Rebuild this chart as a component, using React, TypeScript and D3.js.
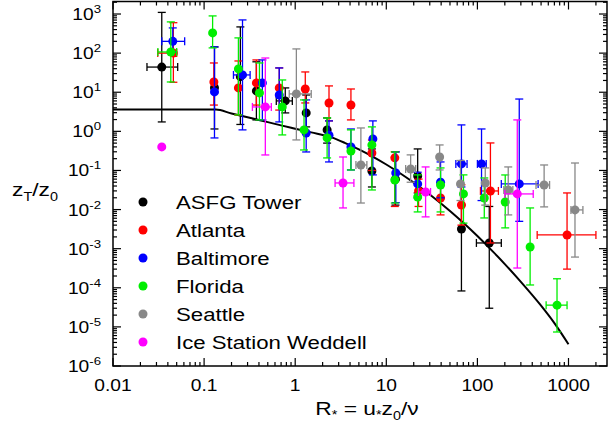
import React from "react";
import * as d3 from "d3";

// [R*, zT/z0, zLo, zHi, RLo, RHi]
type P = [number, number, number | null, number | null, number | null, number | null];

const asfgTower: P[] = [
  [0.0343, 44, 1.74, 1100, 0.0236, 0.0513],
  [0.13, 13, 1.15, 144, null, null],
  [0.25, 25, 1.5, 468, null, null],
  [0.375, 10.8, 1.96, 60, null, null],
  [0.778, 6.0, 2.96, 12.9, 0.62, 0.93],
  [1.32, 2.96, 1.3, 8.5, null, null],
  [2.24, 1.09, 0.5, 2.2, null, null],
  [6.95, 0.097, 0.0378, 0.355, null, null],
  [12.6, 0.06, 0.013, 0.3, null, null],
  [22.1, 0.0723, 0.0266, 0.355, null, null],
  [66.8, 0.00319, 8.3e-5, 0.013, null, null],
  [135, 0.0014, 3.0e-5, 0.012, 97.5, 183],
];

const atlanta: P[] = [
  [0.046, 100, 18, 600, 0.031, 0.05],
  [0.128, 18.3, 4.7, 56, null, null],
  [0.238, 12.9, 2.63, 63, null, null],
  [0.375, 17.3, 4.7, 67, null, null],
  [0.668, 12.9, 3.5, 41.8, null, null],
  [1.29, 12.1, 5.32, 33, null, null],
  [2.35, 5.32, 1.85, 14.5, null, null],
  [4.09, 4.73, 1.96, 12.1, null, null],
  [6.95, 0.28, 0.1, 0.6, null, null],
  [12.4, 0.21, 0.012, 0.3, null, null],
  [22.6, 0.03, 0.012, 0.06, null, null],
  [39.4, 0.0198, 0.0073, 0.0426, null, null],
  [66.8, 0.0131, 0.004, 0.043, null, null],
  [139, 0.0299, 0.0014, 0.505, 108, 170],
  [964, 0.00224, 3.0e-4, 0.0266, 453, 2000],
];

const baltimore: P[] = [
  [0.0453, 200, 107, 441, 0.0343, 0.0612],
  [0.13, 10.2, 0.678, 144, null, null],
  [0.264, 27.7, 1.09, 706, 0.21, 0.32],
  [0.436, 17.3, 1.96, 67, null, null],
  [0.668, 8.5, 1.74, 41.8, null, null],
  [1.32, 0.91, 0.297, 6.35, null, null],
  [2.35, 0.8, 0.165, 1.85, null, null],
  [4.09, 0.4, 0.103, 1.15, null, null],
  [7.12, 0.64, 0.077, 1.85, null, null],
  [12.7, 0.0863, 0.015, 0.297, null, null],
  [22.1, 0.0452, 0.02, 0.09, null, null],
  [39.4, 0.05, 0.02, 0.165, null, null],
  [66.8, 0.147, 0.0378, 1.46, 58, 77],
  [111, 0.147, 0.017, 1.15, 100, 125],
  [288, 0.0452, 0.005, 6.7, 183, 464],
];

const florida: P[] = [
  [0.0431, 107, 18.3, 629, 0.0311, 0.05],
  [0.124, 329, 136, 894, null, null],
  [0.238, 39.4, 2.63, 245, null, null],
  [0.405, 9.6, 1.96, 56, null, null],
  [0.721, 4.21, 0.81, 20.6, null, null],
  [1.25, 1.09, 0.334, 6.35, null, null],
  [2.24, 0.678, 0.209, 2.2, null, null],
  [4.09, 0.315, 0.103, 1.09, null, null],
  [6.95, 0.449, 0.0317, 1.3, null, null],
  [12.4, 0.0571, 0.0147, 0.297, null, null],
  [22.1, 0.021, 0.0087, 0.077, null, null],
  [39.4, 0.0426, 0.0087, 0.116, null, null],
  [70.3, 0.0251, 0.0045, 0.077, null, null],
  [119, 0.0198, 0.0061, 0.0643, null, null],
  [202, 0.0156, 0.0034, 0.0767, null, null],
  [379, 0.0011, 1.18e-4, 0.011, null, null],
  [748, 3.6e-5, 7.4e-6, 1.7e-4, 568, 964],
];

const seattle: P[] = [
  [1.03, 9.06, 0.603, 128, 0.86, 1.5],
  [5.26, 0.138, 0.0147, 1.22, 4.64, 6.12],
  [18.5, 0.109, 0.05, 0.25, 16.3, 21.0],
  [38.5, 0.221, 0.103, 0.449, null, null],
  [65.2, 0.0452, 0.017, 0.18, null, null],
  [122, 0.0479, 0.013, 0.116, null, null],
  [218, 0.0317, 0.0073, 0.123, 195, 245],
  [540, 0.0426, 0.0117, 0.138, 440, 620],
  [1178, 0.0098, 6.1e-4, 0.155, 1064, 1439],
];

const iceStationWeddell: P[] = [
  [0.0343, 0.4, null, null, null, null],
  [0.47, 4.21, 0.249, 75, 0.339, 0.547],
  [3.35, 0.0479, 0.011, 0.221, 2.74, 4.41],
  [27.0, 0.0282, 0.0065, 0.123, 22.6, 30.6],
  [274, 0.0251, 3.2e-4, 1.96, 200, 410],
];

const seriesNames = ["ASFG Tower", "Atlanta", "Baltimore", "Florida", "Seattle", "Ice Station Weddell"];
const seriesColors = ["#000000", "#ff0000", "#0000ff", "#00ee00", "#888888", "#ff00ff"];
const seriesData = [asfgTower, atlanta, baltimore, florida, seattle, iceStationWeddell];

// model curve
const curveR = [0.01, 0.135, 0.2, 0.3, 0.5, 0.7, 1, 1.5, 2.5, 3.5, 5, 7, 10, 15, 20, 30, 50, 70, 100, 150, 200, 300, 500, 700, 1000];
const curveZ = [3.6, 3.6, 2.85, 2.28, 1.72, 1.42, 1.17, 0.94, 0.70, 0.508, 0.344, 0.229, 0.142, 0.0777, 0.0489, 0.0242, 0.00915, 0.00458, 0.0021, 8.17e-4, 4.04e-4, 1.42e-4, 3.49e-5, 1.25e-5, 3.6e-6];

const xTickVals = [0.01, 0.1, 1, 10, 100, 1000];
const xTickLabels = ["0.01", "0.1", "1", "10", "100", "1000"];
const yTickExps = [3, 2, 1, 0, -1, -2, -3, -4, -5, -6];

const W = 609, H = 433;
const L = 113, R = 607, T = 1.5, B = 366;
const SX = 1.2; // horizontal stretch of the reference's lettering

function SText({ x, y, anchor, size, children }: { x: number; y: number; anchor?: string; size: number; children: React.ReactNode }) {
  return (
    <g transform={`translate(${x},${y}) scale(${SX},1)`}>
      <text x={0} y={0} fontSize={size} textAnchor={anchor || "start"} fill="#000">{children}</text>
    </g>
  );
}

export default function App() {
  const x = d3.scaleLog().domain([0.01, 2646]).range([L, R]);
  const y = d3.scaleLog().domain([1e-6, 2089]).range([B, T]);
  const font = "'Liberation Sans', Arial, sans-serif";

  const minorX: number[] = [];
  for (let e = -2; e <= 3; e++) for (let k = 2; k <= 9; k++) { const v = k * 10 ** e; if (v < 2646) minorX.push(v); }
  const minorY: number[] = [];
  for (let e = -6; e <= 3; e++) for (let k = 2; k <= 9; k++) { const v = k * 10 ** e; if (v < 2089) minorY.push(v); }

  const line = d3.line<number>().x((_, i) => x(curveR[i])).y((d) => y(d)).curve(d3.curveMonotoneX);
  const cap = 4;

  return (
    <svg width={W} height={H} style={{ position: "absolute", left: 0, top: 0, background: "#fff" }} fontFamily={font}>
      <g stroke="#000" strokeWidth={1.2}>
        {xTickVals.map((v, i) => (
          <g key={"mx" + i}>
            <line x1={x(v)} x2={x(v)} y1={B} y2={B - 8} />
            <line x1={x(v)} x2={x(v)} y1={T} y2={T + 8} />
          </g>
        ))}
        {minorX.map((v, i) => (
          <g key={"nx" + i}>
            <line x1={x(v)} x2={x(v)} y1={B} y2={B - 4} />
            <line x1={x(v)} x2={x(v)} y1={T} y2={T + 4} />
          </g>
        ))}
        {yTickExps.map((e) => (
          <g key={"my" + e}>
            <line x1={L} x2={L + 8} y1={y(10 ** e)} y2={y(10 ** e)} />
            <line x1={R} x2={R - 8} y1={y(10 ** e)} y2={y(10 ** e)} />
          </g>
        ))}
        {minorY.map((v, i) => (
          <g key={"ny" + i}>
            <line x1={L} x2={L + 4} y1={y(v)} y2={y(v)} />
            <line x1={R} x2={R - 4} y1={y(v)} y2={y(v)} />
          </g>
        ))}
      </g>
      <rect x={L} y={T} width={R - L} height={B - T} fill="none" stroke="#000" strokeWidth={1.5} />

      <path d={line(curveZ) || ""} fill="none" stroke="#000" strokeWidth={2} />

      {seriesData.map((pts, si) => (
        <g key={"s" + si} stroke={seriesColors[si]} fill={seriesColors[si]} strokeWidth={1.3}>
          {pts.map((p, pi) => {
            const cx = x(p[0]), cy = y(p[1]);
            return (
              <g key={pi}>
                {p[2] != null && p[3] != null && (
                  <g>
                    <line x1={cx} x2={cx} y1={y(p[2])} y2={y(p[3])} />
                    <line x1={cx - cap} x2={cx + cap} y1={y(p[2])} y2={y(p[2])} />
                    <line x1={cx - cap} x2={cx + cap} y1={y(p[3])} y2={y(p[3])} />
                  </g>
                )}
                {p[4] != null && p[5] != null && (
                  <g>
                    <line x1={x(p[4])} x2={x(p[5])} y1={cy} y2={cy} />
                    <line x1={x(p[4])} x2={x(p[4])} y1={cy - cap} y2={cy + cap} />
                    <line x1={x(p[5])} x2={x(p[5])} y1={cy - cap} y2={cy + cap} />
                  </g>
                )}
                <circle cx={cx} cy={cy} r={4.5} stroke="none" />
              </g>
            );
          })}
        </g>
      ))}

      {xTickVals.map((v, i) => (
        <SText key={"xl" + i} x={x(v)} y={391} anchor="middle" size={16}>{xTickLabels[i]}</SText>
      ))}
      {yTickExps.map((e) => (
        <SText key={"yl" + e} x={101} y={y(10 ** e) + 6} anchor="end" size={16}>
          10<tspan dy={-7} fontSize={11}>{String(e)}</tspan>
        </SText>
      ))}

      <SText x={12} y={196} size={19}>
        z<tspan dy={5} fontSize={12}>T</tspan><tspan dy={-5}>/z</tspan><tspan dy={5} fontSize={12}>0</tspan>
      </SText>
      <SText x={367} y={415} anchor="middle" size={19}>
        R<tspan dy={4} fontSize={12}>*</tspan><tspan dy={-4}> = u</tspan><tspan dy={4} fontSize={12}>*</tspan><tspan dy={-4}>z</tspan><tspan dy={5} fontSize={12}>0</tspan><tspan dy={-5}>/ν</tspan>
      </SText>

      {seriesNames.map((n, i) => (
        <g key={"lg" + i}>
          <circle cx={143} cy={202 + i * 28} r={4.5} fill={seriesColors[i]} />
          <SText x={176} y={202 + i * 28 + 6.5} size={18.5}>{n}</SText>
        </g>
      ))}
    </svg>
  );
}
